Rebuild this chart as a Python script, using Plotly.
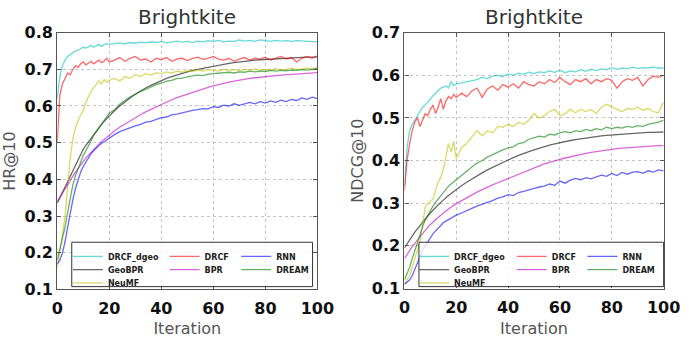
import plotly.graph_objects as go

# ---------------- data ----------------
ITER = list(range(0, 21)) + list(range(22, 101, 2))

SERIES = ["DRCF_dgeo", "GeoBPR", "NeuMF", "DRCF", "BPR", "RNN", "DREAM"]

HR_DRCF_DGEO = [0.62, 0.68, 0.71, 0.725, 0.735, 0.74, 0.745, 0.75, 0.752, 0.755,
                0.76, 0.758, 0.762, 0.765, 0.76, 0.765, 0.768, 0.763, 0.767, 0.77, 0.768,
                0.77, 0.772, 0.769, 0.773, 0.771, 0.774, 0.772, 0.775, 0.773, 0.776,
                0.772, 0.775, 0.777, 0.774, 0.776, 0.773, 0.777, 0.775, 0.778, 0.776,
                0.779, 0.775, 0.777, 0.776, 0.78, 0.777, 0.779, 0.776, 0.78, 0.778,
                0.776, 0.779, 0.777, 0.778, 0.776, 0.778, 0.777, 0.775, 0.776, 0.775]
HR_GEOBPR = [0.335, 0.35, 0.365, 0.38, 0.395, 0.41, 0.425, 0.44, 0.455, 0.47,
             0.482, 0.493, 0.503, 0.513, 0.523, 0.533, 0.542, 0.55, 0.558, 0.566, 0.573,
             0.587, 0.6, 0.612, 0.622, 0.632, 0.641, 0.649, 0.656, 0.663, 0.669,
             0.675, 0.68, 0.685, 0.689, 0.693, 0.697, 0.70, 0.703, 0.706, 0.709,
             0.711, 0.714, 0.716, 0.718, 0.72, 0.722, 0.723, 0.725, 0.726, 0.727,
             0.728, 0.729, 0.73, 0.731, 0.731, 0.732, 0.732, 0.733, 0.733, 0.734]
HR_NEUMF = [0.16, 0.2, 0.25, 0.3, 0.38, 0.46, 0.51, 0.54, 0.56, 0.575,
            0.59, 0.61, 0.625, 0.64, 0.65, 0.66, 0.668, 0.66, 0.672, 0.665, 0.67,
            0.675, 0.668, 0.68, 0.676, 0.685, 0.68, 0.688, 0.684, 0.69, 0.688,
            0.693, 0.69, 0.695, 0.692, 0.696, 0.694, 0.698, 0.695, 0.699, 0.697,
            0.695, 0.70, 0.697, 0.699, 0.696, 0.70, 0.698, 0.701, 0.697, 0.70,
            0.698, 0.702, 0.699, 0.70, 0.703, 0.699, 0.701, 0.703, 0.702, 0.705]
HR_DRCF = [0.5, 0.63, 0.66, 0.675, 0.69, 0.685, 0.70, 0.71, 0.705, 0.715,
           0.72, 0.712, 0.718, 0.722, 0.715, 0.72, 0.725, 0.718, 0.722, 0.73, 0.72,
           0.725, 0.732, 0.722, 0.73, 0.735, 0.725, 0.728, 0.72, 0.73, 0.726,
           0.732, 0.722, 0.728, 0.73, 0.724, 0.73, 0.733, 0.727, 0.73, 0.735,
           0.728, 0.725, 0.73, 0.722, 0.728, 0.732, 0.725, 0.73, 0.728, 0.733,
           0.725, 0.73, 0.735, 0.728, 0.732, 0.72, 0.73, 0.735, 0.73, 0.737]
HR_BPR = [0.34, 0.352, 0.364, 0.375, 0.387, 0.398, 0.41, 0.42, 0.43, 0.44,
          0.45, 0.458, 0.466, 0.474, 0.482, 0.49, 0.497, 0.503, 0.509, 0.515, 0.521,
          0.532, 0.542, 0.551, 0.56, 0.568, 0.576, 0.584, 0.591, 0.598, 0.605,
          0.611, 0.617, 0.623, 0.628, 0.633, 0.638, 0.643, 0.647, 0.651, 0.655,
          0.659, 0.662, 0.665, 0.668, 0.671, 0.673, 0.675, 0.677, 0.679, 0.681,
          0.682, 0.683, 0.684, 0.685, 0.686, 0.687, 0.688, 0.689, 0.69, 0.691]
HR_RNN = [0.17, 0.18, 0.2, 0.23, 0.27, 0.31, 0.345, 0.375, 0.4, 0.42,
          0.435, 0.448, 0.46, 0.47, 0.478, 0.486, 0.492, 0.498, 0.503, 0.508, 0.513,
          0.522, 0.53, 0.536, 0.54, 0.546, 0.55, 0.556, 0.558, 0.564, 0.568,
          0.57, 0.576, 0.578, 0.582, 0.585, 0.588, 0.59, 0.593, 0.592, 0.598,
          0.596, 0.602, 0.60, 0.606, 0.602, 0.605, 0.61, 0.606, 0.612, 0.608,
          0.614, 0.61, 0.616, 0.612, 0.618, 0.615, 0.622, 0.618, 0.624, 0.62]
HR_DREAM = [0.18, 0.21, 0.24, 0.27, 0.31, 0.35, 0.385, 0.41, 0.43, 0.45,
            0.465, 0.478, 0.49, 0.505, 0.52, 0.53, 0.54, 0.55, 0.56, 0.57, 0.58,
            0.59, 0.605, 0.615, 0.625, 0.632, 0.64, 0.645, 0.652, 0.658, 0.662,
            0.668, 0.67, 0.675, 0.676, 0.68, 0.682, 0.684, 0.683, 0.687, 0.688,
            0.69, 0.689, 0.692, 0.69, 0.693, 0.692, 0.695, 0.693, 0.695, 0.694,
            0.697, 0.695, 0.697, 0.696, 0.698, 0.697, 0.699, 0.698, 0.70, 0.702]

ND_DRCF_DGEO = [0.34, 0.43, 0.47, 0.485, 0.495, 0.505, 0.515, 0.525, 0.53, 0.538,
                0.545, 0.552, 0.558, 0.565, 0.57, 0.572, 0.575, 0.57, 0.585, 0.576, 0.58,
                0.582, 0.585, 0.588, 0.59, 0.595, 0.592, 0.598, 0.60, 0.597, 0.603,
                0.60, 0.605, 0.602, 0.607, 0.604, 0.608, 0.606, 0.61, 0.607, 0.612,
                0.606, 0.61, 0.608, 0.613, 0.609, 0.614, 0.611, 0.615, 0.613, 0.618,
                0.614, 0.617, 0.615, 0.619, 0.616, 0.618, 0.617, 0.619, 0.617, 0.617]
ND_GEOBPR = [0.195, 0.205, 0.215, 0.224, 0.232, 0.24, 0.248, 0.256, 0.263, 0.27,
             0.277, 0.284, 0.29, 0.296, 0.302, 0.308, 0.313, 0.318, 0.323, 0.328, 0.332,
             0.341, 0.349, 0.357, 0.364, 0.371, 0.378, 0.384, 0.39, 0.396, 0.402,
             0.407, 0.412, 0.417, 0.421, 0.425, 0.429, 0.432, 0.436, 0.439, 0.442,
             0.444, 0.447, 0.449, 0.451, 0.453, 0.455, 0.456, 0.458, 0.459, 0.46,
             0.461, 0.462, 0.463, 0.464, 0.465, 0.465, 0.466, 0.466, 0.467, 0.467]
ND_NEUMF = [0.11, 0.12, 0.13, 0.15, 0.17, 0.19, 0.21, 0.25, 0.29, 0.30,
            0.305, 0.31, 0.33, 0.35, 0.36, 0.38, 0.41, 0.44, 0.42, 0.445, 0.405,
            0.43, 0.44, 0.455, 0.47, 0.458, 0.47, 0.465, 0.48, 0.478, 0.485,
            0.48, 0.49, 0.485, 0.495, 0.51, 0.50, 0.505, 0.515, 0.52, 0.505,
            0.51, 0.52, 0.512, 0.52, 0.515, 0.52, 0.51, 0.525, 0.532, 0.525,
            0.52, 0.515, 0.522, 0.52, 0.525, 0.518, 0.522, 0.515, 0.512, 0.537]
ND_DRCF = [0.33, 0.40, 0.44, 0.47, 0.49, 0.50, 0.48, 0.495, 0.51, 0.505,
           0.52, 0.53, 0.51, 0.525, 0.545, 0.52, 0.54, 0.55, 0.545, 0.555, 0.548,
           0.558, 0.55, 0.563, 0.57, 0.548, 0.568, 0.575, 0.565, 0.578, 0.572,
           0.58, 0.57, 0.585, 0.578, 0.575, 0.585, 0.58, 0.59, 0.583, 0.595,
           0.585, 0.578, 0.59, 0.585, 0.592, 0.58, 0.59, 0.585, 0.592, 0.588,
           0.57, 0.585, 0.592, 0.588, 0.595, 0.575, 0.59, 0.598, 0.595, 0.60]
ND_BPR = [0.17, 0.18, 0.19, 0.198, 0.206, 0.214, 0.222, 0.23, 0.237, 0.244,
          0.25, 0.256, 0.262, 0.267, 0.272, 0.277, 0.282, 0.287, 0.291, 0.295, 0.299,
          0.306, 0.313, 0.32, 0.326, 0.332, 0.338, 0.343, 0.348, 0.353, 0.358,
          0.363, 0.368, 0.373, 0.378, 0.383, 0.388, 0.392, 0.396, 0.40, 0.403,
          0.406, 0.409, 0.412, 0.415, 0.417, 0.419, 0.421, 0.423, 0.425, 0.426,
          0.428, 0.429, 0.43, 0.431, 0.432, 0.433, 0.434, 0.434, 0.435, 0.435]
ND_RNN = [0.11, 0.115, 0.12, 0.13, 0.145, 0.16, 0.175, 0.19, 0.20, 0.21,
          0.22, 0.228, 0.235, 0.242, 0.248, 0.254, 0.258, 0.262, 0.265, 0.268, 0.272,
          0.277, 0.283, 0.288, 0.293, 0.298, 0.302, 0.306, 0.312, 0.315, 0.32,
          0.318, 0.325, 0.328, 0.332, 0.335, 0.338, 0.34, 0.345, 0.342, 0.352,
          0.347, 0.354, 0.358, 0.355, 0.36, 0.357, 0.362, 0.366, 0.363, 0.37,
          0.365, 0.372, 0.368, 0.373, 0.374, 0.37, 0.376, 0.373, 0.378, 0.376]
ND_DREAM = [0.12, 0.135, 0.15, 0.17, 0.19, 0.21, 0.23, 0.245, 0.26, 0.272,
            0.283, 0.293, 0.302, 0.31, 0.318, 0.326, 0.333, 0.34, 0.345, 0.35, 0.355,
            0.366, 0.377, 0.385, 0.394, 0.40, 0.408, 0.414, 0.42, 0.425, 0.43,
            0.432, 0.44, 0.442, 0.45, 0.453, 0.457, 0.455, 0.462, 0.46, 0.465,
            0.468, 0.465, 0.47, 0.468, 0.473, 0.47, 0.475, 0.472, 0.478, 0.475,
            0.478, 0.476, 0.48, 0.478, 0.482, 0.48, 0.485, 0.487, 0.49, 0.495]

HR_VALUES = [HR_DRCF_DGEO, HR_GEOBPR, HR_NEUMF, HR_DRCF, HR_BPR, HR_RNN, HR_DREAM]
NDCG_VALUES = [ND_DRCF_DGEO, ND_GEOBPR, ND_NEUMF, ND_DRCF, ND_BPR, ND_RNN, ND_DREAM]

X_TICKS = [0, 20, 40, 60, 80, 100]
HR_TICKS = [0.1, 0.2, 0.3, 0.4, 0.5, 0.6, 0.7, 0.8]
NDCG_TICKS = [0.1, 0.2, 0.3, 0.4, 0.5, 0.6, 0.7]

for arr in HR_VALUES + NDCG_VALUES:
    assert len(arr) == len(ITER), len(arr)

# ---------------- style ----------------
COLORS = ["rgba(0,191,191,0.6)", "rgba(0,0,0,0.6)", "rgba(191,191,0,0.6)",
          "rgba(255,0,0,0.6)", "rgba(191,0,191,0.6)", "rgba(0,0,255,0.6)",
          "rgba(0,128,0,0.6)"]
# legend cell (row, col) of each series, matplotlib ncol=3 column-major fill
CELLS = [(0, 0), (1, 0), (2, 0), (0, 1), (1, 1), (0, 2), (1, 2)]

W, H = 699, 341
def fx(p):
    return p / W
def fy(p):
    return 1 - p / H

FONT = "DejaVu Sans"
LEG_ROWS = [262, 276, 290]
LEG_TEXT_X = {1: [104, 204, 278], 2: [462, 563, 636]}
BOXES = {1: (68, 247, 317, 294), 2: (427, 247, 680, 294)}

fig = go.Figure()
layout_legends = {}
n_leg = 0
for panel, values in ((1, HR_VALUES), (2, NDCG_VALUES)):
    xa = "x" if panel == 1 else "x2"
    ya = "y" if panel == 1 else "y2"
    for i, name in enumerate(SERIES):
        n_leg += 1
        lname = "legend" if n_leg == 1 else f"legend{n_leg}"
        row, col = CELLS[i]
        fig.add_trace(go.Scatter(
            x=ITER, y=values[i], mode="lines", name=name,
            line=dict(color=COLORS[i], width=1.3),
            xaxis=xa, yaxis=ya, legend=lname, showlegend=True))
        layout_legends[lname] = dict(
            x=fx(LEG_TEXT_X[panel][col] - 40), xanchor="left",
            y=fy(LEG_ROWS[row]), yanchor="middle",
            bgcolor="rgba(0,0,0,0)", borderwidth=0, itemwidth=30,
            font=dict(family=FONT, size=8, color="#222", weight="bold"),
            itemclick=False, itemdoubleclick=False)

axis_common = dict(
    showgrid=True, gridcolor="#c4c4c4", griddash="dot", gridwidth=1,
    showline=True, linecolor="#555", linewidth=1.2, mirror="allticks",
    ticks="inside", ticklen=4, tickcolor="#555", zeroline=False,
    tickfont=dict(family=FONT, size=16, color="#111", weight="bold"),
)
xtitle_font = dict(family=FONT, size=16, color="#555")

fig.update_layout(
    width=W, height=H, margin=dict(l=0, r=0, t=0, b=0),
    paper_bgcolor="white", plot_bgcolor="white",
    xaxis=dict(domain=[fx(53), fx(322)], range=[0, 100], tickvals=X_TICKS,
               anchor="y", ticklabelstandoff=4,
               title=dict(text="Iteration", standoff=6, font=xtitle_font),
               **axis_common),
    yaxis=dict(domain=[fy(297), fy(25)], range=[0.1, 0.8], tickvals=HR_TICKS,
               tickformat=".1f", anchor="x",
               title=dict(text="HR@10", standoff=4, font=xtitle_font),
               **axis_common),
    xaxis2=dict(domain=[fx(412), fx(680)], range=[0, 100], tickvals=X_TICKS,
                anchor="y2", ticklabelstandoff=4,
                title=dict(text="Iteration", standoff=6, font=xtitle_font),
                **axis_common),
    yaxis2=dict(domain=[fy(296), fy(25)], range=[0.1, 0.7], tickvals=NDCG_TICKS,
                tickformat=".1f", anchor="x2",
                title=dict(text="NDCG@10", standoff=4, font=xtitle_font),
                **axis_common),
    showlegend=True,
    **layout_legends,
)

for panel, (xref, yref) in ((1, ("x domain", "y domain")), (2, ("x2 domain", "y2 domain"))):
    fig.add_annotation(text="Brightkite", xref=xref, yref=yref, x=0.5, y=1,
                       xanchor="center", yanchor="bottom", showarrow=False, yshift=2,
                       font=dict(family=FONT, size=20, color="#333"))
    x0, y0, x1, y1 = BOXES[panel]
    fig.add_shape(type="rect", xref="paper", yref="paper",
                  x0=fx(x0), x1=fx(x1), y0=fy(y1), y1=fy(y0),
                  line=dict(color="#333", width=1),
                  fillcolor="rgba(255,255,255,0.8)", layer="above")

fig.write_html("out.html")
